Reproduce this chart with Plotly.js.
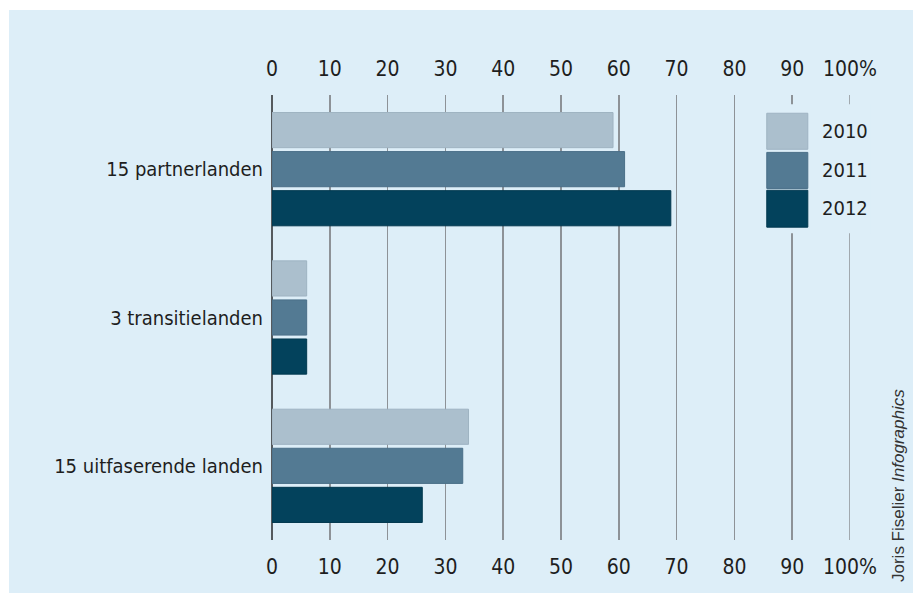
<!DOCTYPE html>
<html>
<head>
<meta charset="utf-8">
<script src="https://cdn.plot.ly/plotly-3.0.1.min.js"></script>
<style>
  html, body { margin: 0; padding: 0; background: #ffffff; width: 913px; height: 593px; overflow: hidden; }
  #chart { position: absolute; left: 9px; top: 10px; width: 904px; height: 583px; }
</style>
</head>
<body>
<div id="chart"></div>
<script>
// Data
const categories = ["15 partnerlanden", "3 transitielanden", "15 uitfaserende landen"];
const years = ["2010", "2011", "2012"];
const values2010 = [59, 6, 34];
const values2011 = [61, 6, 33];
const values2012 = [69, 6, 26];
const tickValues = [0, 10, 20, 30, 40, 50, 60, 70, 80, 90, 100];
const tickLabels = ["0", "10", "20", "30", "40", "50", "60", "70", "80", "90", "100%"];
const credit = "Joris Fiselier <i>Infographics</i>";

const colors = ["#abbfcd", "#537a93", "#03425c"];
const borders = ["#9fb3c2", "#4a6f88", "#02384f"];
const bg = "#ddeef8";
const gridColor = "#8d9297";
const seriesValues = [values2010, values2011, values2012];

const traces = years.map((yr, i) => ({
  type: "bar",
  orientation: "h",
  name: yr,
  y: categories,
  x: seriesValues[i],
  marker: { color: colors[i], line: { color: borders[i], width: 1 } },
  hoverinfo: "x+name",
  showlegend: false
}));
// invisible trace for the top axis
traces.push({ type: "scatter", x: [0, 100], y: [categories[0], categories[0]], xaxis: "x2", mode: "markers", marker: { opacity: 0 }, showlegend: false, hoverinfo: "skip" });

const fontFamily = "Liberation Sans Narrow, Arial Narrow, DejaVu Sans Condensed, sans-serif";
const tickFont = { family: fontFamily, size: 21, color: "#1e1e1e" };

const xCommon = {
  range: [0, 100],
  tickvals: tickValues,
  ticktext: tickLabels,
  tickfont: tickFont,
  showline: false,
  ticks: "",
  fixedrange: true
};

// Legend swatches (paper coordinates)
const swatchX0 = 0.856, swatchX1 = 0.927;
const swatchY = [[0.959, 0.878], [0.871, 0.790], [0.786, 0.703]];
const labelY = [0.918, 0.831, 0.746];

const shapes = [
  // gridline at the range end (Plotly omits it at the edge)
  { type: "line", xref: "x", yref: "paper", x0: tickValues[tickValues.length - 1], x1: tickValues[tickValues.length - 1], y0: 0, y1: 1, line: { color: gridColor, width: 1.5 }, layer: "below" },
  // legend background covering the gridlines
  { type: "rect", xref: "paper", yref: "paper", x0: 0.844, x1: 1.035, y0: 0.6895, y1: 0.979, fillcolor: bg, line: { width: 0 }, layer: "above" }
];
const annotations = [];
years.forEach((yr, i) => {
  shapes.push({ type: "rect", xref: "paper", yref: "paper", x0: swatchX0, x1: swatchX1, y0: swatchY[i][1], y1: swatchY[i][0], fillcolor: colors[i], line: { color: borders[i], width: 1 }, layer: "above" });
  annotations.push({ xref: "paper", yref: "paper", x: 0.948, y: labelY[i], xanchor: "left", yanchor: "middle", text: yr, showarrow: false, font: { family: fontFamily, size: 20, color: "#1e1e1e" } });
});
annotations.push({ xref: "paper", yref: "paper", x: 1.083, y: 0.1235, xanchor: "center", yanchor: "middle", textangle: -90, text: credit, showarrow: false, font: { family: "Liberation Sans, Arial, sans-serif", size: 17, color: "#333333" } });

const layout = {
  width: 904,
  height: 583,
  margin: { l: 263, r: 63, t: 85, b: 53, pad: 0 },
  paper_bgcolor: bg,
  plot_bgcolor: bg,
  barmode: "group",
  bargap: 0.21,
  bargroupgap: 0.10,
  showlegend: false,
  xaxis: Object.assign({}, xCommon, {
    side: "bottom",
    showgrid: true,
    gridcolor: gridColor,
    gridwidth: 1.5,
    zeroline: true,
    zerolinecolor: "#555a5e",
    zerolinewidth: 2.5,
    ticklabelstandoff: 12
  }),
  xaxis2: Object.assign({}, xCommon, {
    side: "top",
    overlaying: "x",
    anchor: "y",
    showgrid: false,
    zeroline: false,
    ticklabelstandoff: 14
  }),
  yaxis: {
    type: "category",
    autorange: "reversed",
    tickfont: { family: fontFamily, size: 20, color: "#1e1e1e" },
    showgrid: false,
    zeroline: false,
    showline: false,
    ticks: "",
    ticklabelstandoff: 8,
    fixedrange: true
  },
  shapes: shapes,
  annotations: annotations
};

Plotly.newPlot("chart", traces, layout, { displayModeBar: false, staticPlot: true });
</script>
</body>
</html>
